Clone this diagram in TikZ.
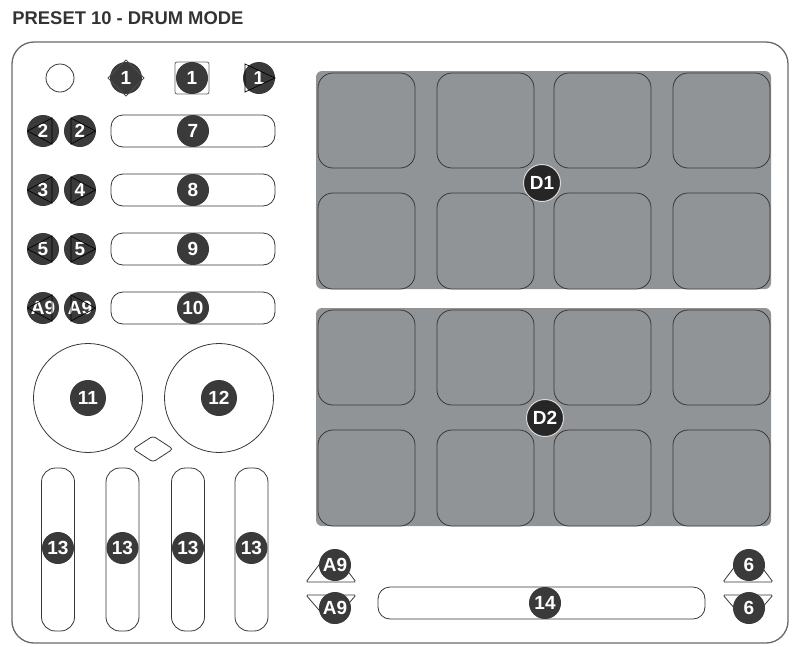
\documentclass[tikz,border=0pt]{standalone}
\usepackage{fontspec}
\setmainfont{Liberation Sans}
\usepackage{tikz}
\usetikzlibrary{
  calc,        % 坐标计算
  positioning  % 节点相对定位
}
\definecolor{badgegray}{RGB}{58,58,58}
\definecolor{padgray}{RGB}{145,148,151}
\definecolor{linegray}{RGB}{55,55,55}
\definecolor{framegray}{RGB}{105,105,105}

\begin{document}
\begin{tikzpicture}[x=1pt, y=-1pt, line width=0.8pt,
  badge/.style={circle, fill=badgegray, text=white, inner sep=0pt,
    minimum size=32pt, font=\bfseries\fontsize{19}{19}\selectfont},
  bigbadge/.style={badge, minimum size=36pt},
  padbadge/.style={badge, minimum size=37pt, fill=black!85,
    draw=white!70!gray, line width=1pt},
  part/.style={draw=linegray, fill=white},
  pad/.style={draw=linegray, fill=padgray, rounded corners=15pt},
  arrowline/.style={draw=black, line width=0.7pt}
]

  % 画布大小 (793 x 646)
  \useasboundingbox (0,0) rectangle (793,646);

  % =========== 标题与外框 ===========
  \node[anchor=west, inner sep=0pt, text=black!80,
        font=\bfseries\fontsize{18.4}{18.4}\selectfont] (title) at (12,18) {PRESET 10 - DRUM MODE};
  \draw[framegray, line width=1.3pt, rounded corners=22pt] (12,42) rectangle (788,643);

  % =========== 第一行：圆钮与三个 1 号键 ===========
  \draw[part] (60,78) circle[radius=14pt];
  \node[badge] (keyA) at (126,78) {1};
  \draw[gray!60!black] ($(keyA)+(-18,0)$) -- ($(keyA)+(0,-18)$) -- ($(keyA)+(18,0)$) -- ($(keyA)+(0,18)$) -- cycle;
  \draw[gray!80!black, rounded corners=2pt] (175,62) rectangle (209,94);
  \node[badge] (keyB) at (192,78) {1};
  \node[badge] (keyC) at (259,78) {1};
  \draw[arrowline] ($(keyC)+(-14,-14)$) -- ($(keyC)+(16,0)$) -- ($(keyC)+(-14,14)$) -- cycle;

  % =========== 左侧四行：左右键 + 横条 ===========
  \foreach \y/\la/\lb/\num in {131/2/2/7, 190/3/4/8, 249/5/5/9, 308/A9/A9/10}{
    \node[badge] (left\num) at (43,\y) {\la};
    \draw[arrowline] ($(left\num)+(-15.5,0)$) -- ($(left\num)+(9,-13)$) -- ($(left\num)+(9,13)$) -- cycle;
    \node[badge] (right\num) at (80,\y) {\lb};
    \draw[arrowline] ($(right\num)+(15.5,0)$) -- ($(right\num)+(-9,-13)$) -- ($(right\num)+(-9,13)$) -- cycle;
    \draw[part, rounded corners=12pt] (111,\y-16) rectangle (275,\y+16);
    \node[badge] (bar\num) at (193,\y) {\num};
  }

  % =========== 两个旋钮与中间菱形键 ===========
  \draw[part] (88,398) circle[radius=54.5pt];
  \node[bigbadge] (knobL) at (88,398) {11};
  \draw[part] (219,398) circle[radius=54.5pt];
  \node[bigbadge] (knobR) at (219,398) {12};
  \draw[part, rounded corners=3pt] (133,449) -- (153,436) -- (173,449) -- (153,462) -- cycle;

  % =========== 四个推子 ===========
  \foreach \x/\n in {58/1, 122.5/2, 188/3, 251.5/4}{
    \draw[part, rounded corners=14pt] (\x-16.5,468) rectangle (\x+16.5,631);
    \node[badge] (fader\n) at (\x,548) {13};
  }

  % =========== 打击垫 D1 / D2 ===========
  \foreach \dy/\lab in {0/D1, 237/D2}{
    \begin{scope}[shift={(0,\dy)}]
      \fill[padgray, rounded corners=6pt] (316,71) rectangle (771,289);
      \foreach \px in {318, 437, 554, 673}{
        \draw[pad] (\px,73) rectangle (\px+97,168);
        \draw[pad] (\px,193) rectangle (\px+97,289);
      }
    \end{scope}
  }
  \node[padbadge] (padsA) at (542,183) {D1};
  \node[padbadge] (padsB) at (545,418) {D2};

  % =========== 底部：A9 / 6 三角键与长条 14 ===========
  \draw[part, rounded corners=1.5pt] (306,582) -- (331,549) -- (356,582) -- cycle;
  \node[badge] (upA) at (335,565) {A9};
  \draw[part, rounded corners=1.5pt] (306,595) -- (356,595) -- (331,624) -- cycle;
  \node[badge] (downA) at (335,608) {A9};

  \draw[part, rounded corners=1.5pt] (723,582) -- (748,549) -- (773,582) -- cycle;
  \node[badge] (upB) at (749,565) {6};
  \draw[part, rounded corners=1.5pt] (723,595) -- (773,595) -- (748,624) -- cycle;
  \node[badge] (downB) at (749,608) {6};

  \draw[part, rounded corners=12pt] (378,587) rectangle (705,619);
  \node[badge] (strip) at (545,603) {14};

\end{tikzpicture}
\end{document}
